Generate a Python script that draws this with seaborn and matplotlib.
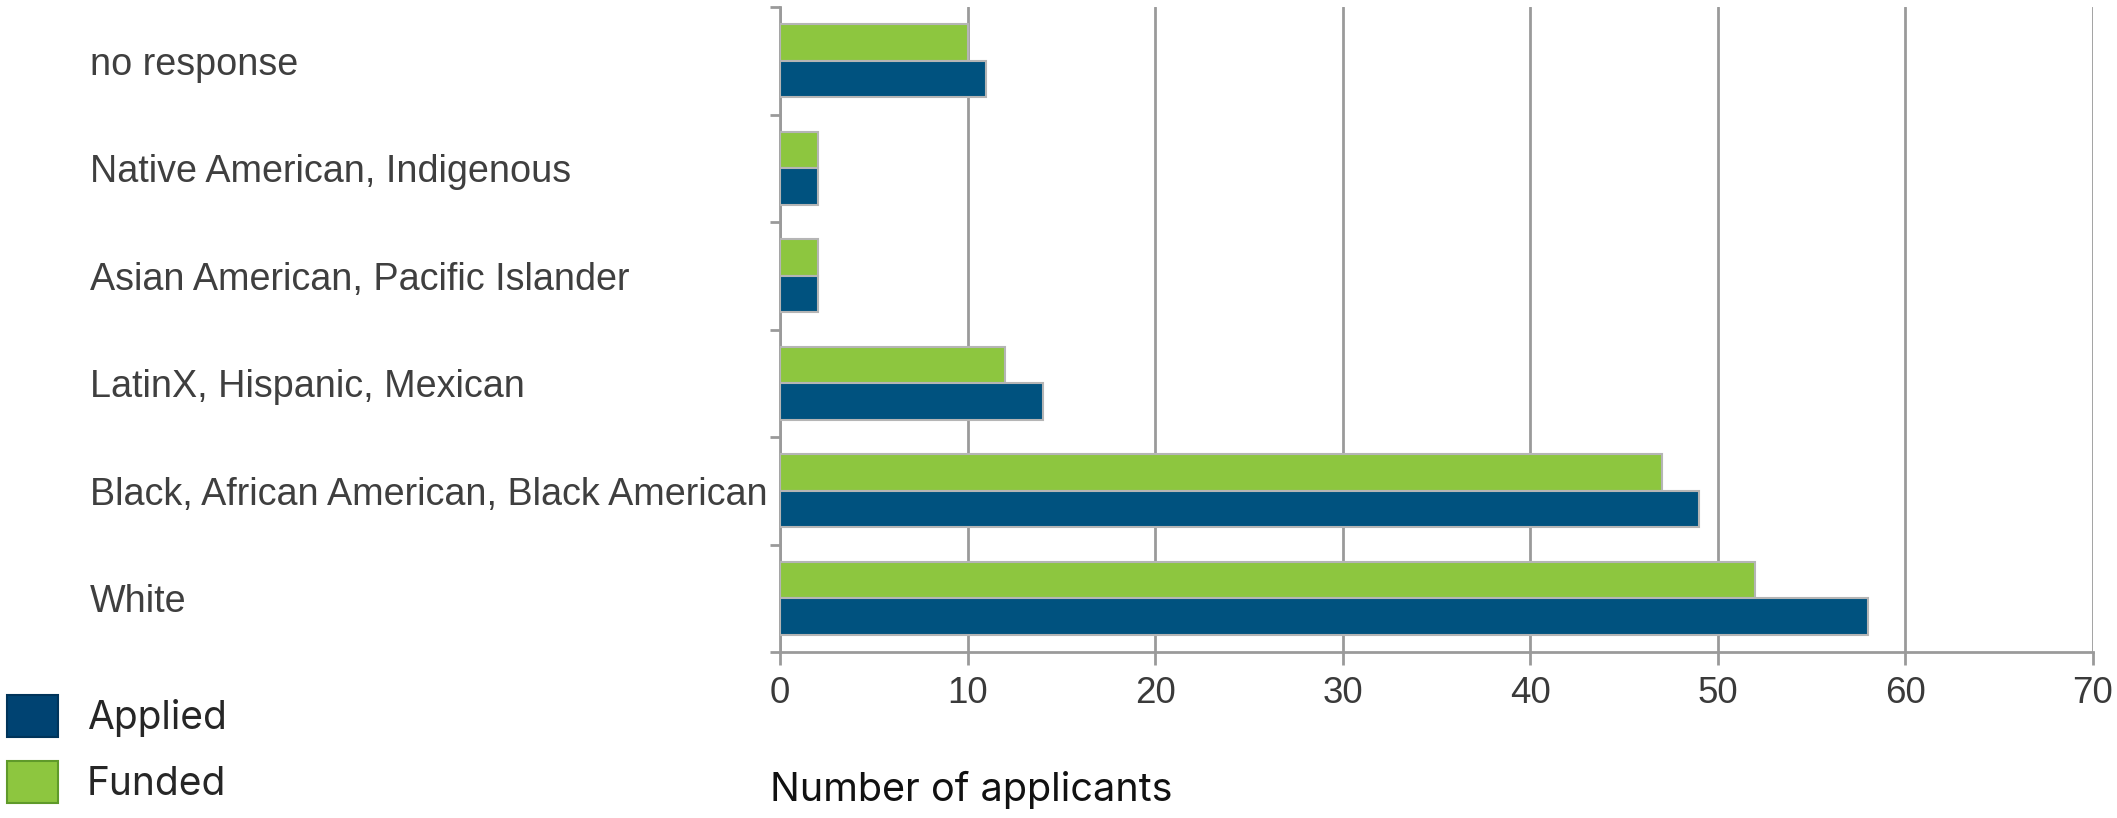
import pandas as pd
import seaborn as sns
import matplotlib.pyplot as plt
from matplotlib.patches import Patch
from matplotlib.ticker import FixedLocator

# Applicants by race / ethnicity
categories = ["no response", "Native American, Indigenous", "Asian American, Pacific Islander",
              "LatinX, Hispanic, Mexican", "Black, African American, Black American", "White"]
applied = [11, 2, 2, 14, 49, 58]
funded = [10, 2, 2, 12, 47, 52]
x_ticks = [0, 10, 20, 30, 40, 50, 60, 70]

df = pd.DataFrame({
    "Category": categories * 2,
    "Count": funded + applied,
    "Status": ["Funded"] * len(categories) + ["Applied"] * len(categories),
})

applied_color = "#00527f"
funded_color = "#8dc63f"
grey = "#9a9a9a"

sns.set_style("white")
plt.rcParams["font.family"] = ["Liberation Sans", "DejaVu Sans"]

fig = plt.figure(figsize=(21.17, 8.18), dpi=100)
ax = fig.add_axes([780 / 2117, 1 - 652 / 818, 1313 / 2117, 645 / 818])

sns.barplot(data=df, y="Category", x="Count", hue="Status", order=categories,
            hue_order=["Funded", "Applied"], palette={"Funded": funded_color, "Applied": applied_color},
            saturation=1, orient="h", width=0.675, edgecolor="#b5b5b5", linewidth=1.5,
            legend=False, ax=ax, zorder=3)

ax.set_xlim(0, 70)
ax.set_ylim(len(categories) - 0.5, -0.5)
ax.set_xticks(x_ticks)
ax.set_xticklabels([str(t) for t in x_ticks], fontsize=26.5, color="#3a3a3a")
ax.grid(axis="x", color=grey, linewidth=2, zorder=0)
ax.grid(axis="y", visible=False)

for side in ["top", "right"]:
    ax.spines[side].set_visible(False)
for side in ["left", "bottom"]:
    ax.spines[side].set_color(grey)
    ax.spines[side].set_linewidth(2)

ax.tick_params(axis="x", length=9, width=2, color=grey, pad=8, direction="out", bottom=True)
ax.yaxis.set_minor_locator(FixedLocator([i - 0.5 for i in range(len(categories) + 1)]))
ax.tick_params(axis="y", which="minor", length=7, width=2, color=grey, left=True)
ax.tick_params(axis="y", which="major", length=0, pad=497)
for lbl in ax.get_yticklabels():
    lbl.set_ha("left")
    lbl.set_fontsize(27.2)
    lbl.set_color("#3f3f3f")

ax.set_ylabel("")
ax.set_xlabel("Number of applicants", fontsize=28.5, family=["Inter", "DejaVu Sans"], color="#111111",
              ha="left", va="center")
ax.xaxis.set_label_coords(-0.0076, -0.214)

handles = [Patch(facecolor="#004372", edgecolor="#00345a", linewidth=1.5),
           Patch(facecolor=funded_color, edgecolor="#5f9a2a", linewidth=1.5)]
fig.legend(handles, ["Applied", "Funded"], loc="upper left", bbox_to_anchor=(7 / 2117, 1 - 695 / 818),
           frameon=False, handlelength=1.3, handleheight=1.3, labelspacing=0.6, handletextpad=0.75,
           borderpad=0, borderaxespad=0, prop={"family": ["Inter", "DejaVu Sans"], "size": 28})

fig.savefig("out.png", dpi=100, facecolor="white")
